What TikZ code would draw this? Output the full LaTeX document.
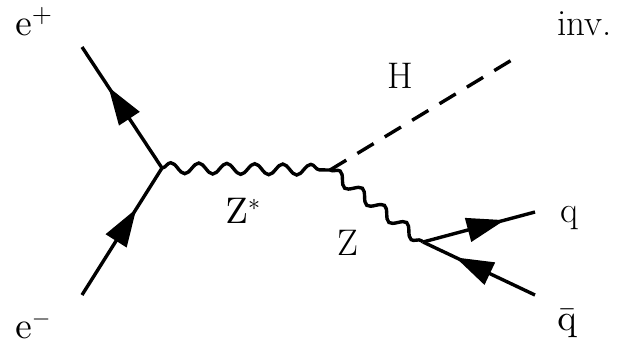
\documentclass[tikz,border=0pt]{standalone}
\usetikzlibrary{arrows.meta,decorations.pathmorphing,decorations.markings}
% cmr10 shapes at any size
\DeclareFontFamily{OT1}{cmrten}{}
\DeclareFontShape{OT1}{cmrten}{m}{n}{<->cmr10}{}
\DeclareSymbolFont{operators}{OT1}{cmrten}{m}{n}
\definecolor{ink}{HTML}{000000}
\tikzset{
  fermion/.style={draw=ink,line width=1.7pt,postaction={decorate},
    decoration={markings,mark=at position #1 with {\arrow{Triangle[length=19pt,width=12pt]}}}},
  fermion/.default=0.67,
  boson/.style={draw=ink,line width=1.7pt,decorate,
    decoration={snake,segment length=14pt,amplitude=2.7pt}},
  scalar/.style={draw=ink,line width=1.7pt,dash pattern=on 9.5pt off 6.5pt},
  lbl/.style={inner sep=0pt,anchor=base west,text=ink,
    font=\fontfamily{cmrten}\fontsize{18.5}{22}\selectfont},
}
\begin{document}
\begin{tikzpicture}[x=0.5pt,y=-0.5pt]
  \useasboundingbox (0,0) rectangle (622,345);
  % ── vertices and end points ──
  \coordinate (ep) at (82,47);  \coordinate (em) at (82,295);
  \coordinate (v1) at (162,168); \coordinate (v2) at (330,170);
  \coordinate (hinv) at (520,55); \coordinate (v3) at (423,242);
  \coordinate (q) at (535,212); \coordinate (qb) at (535,295);
  % ── lines ──
  \draw[fermion=0.67] (v1) -- (ep);
  \draw[fermion=0.68] (em) -- (v1);
  \draw[boson] (v1) -- (v2);
  \draw[scalar] (v2) -- (hinv);
  \draw[boson] (v2) -- (v3);
  \draw[fermion=0.73] (v3) -- (q);
  \draw[fermion=0.71] (qb) -- (v3);
  % ── labels ──
  \node[lbl] (lep) at (15,35) {$\mathrm{e}^+$};
  \node[lbl] (lem) at (15,338) {$\mathrm{e}^-$};
  \node[lbl] (linv) at (557,35) {inv.};
  \node[lbl] (lh) at (387,88) {H};
  \node[lbl] (lzs) at (225,223) {$\mathrm{Z}^*$};
  \node[lbl] (lz) at (337,255) {Z};
  \node[lbl] (lq) at (560,222) {q};
  \node[lbl] (lqb) at (557,330) {$\bar{\mathrm{q}}$};
\end{tikzpicture}
\end{document}
